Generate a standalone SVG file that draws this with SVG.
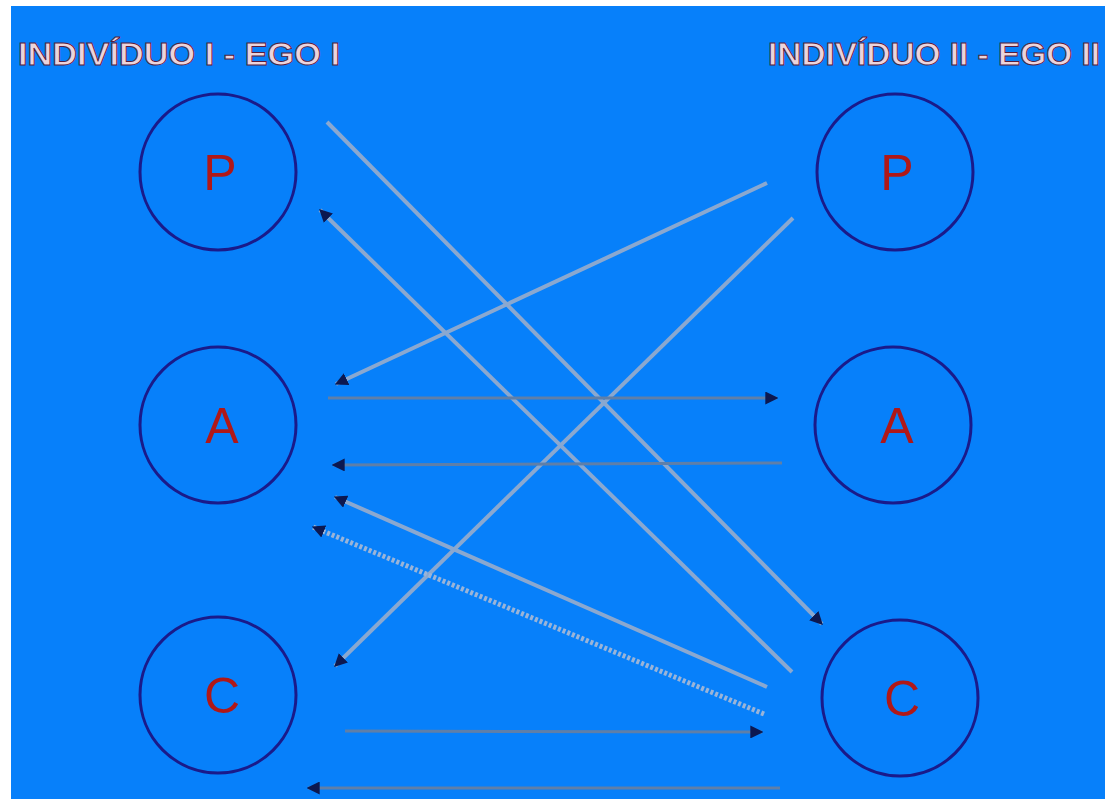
<svg xmlns="http://www.w3.org/2000/svg" width="1105" height="799" viewBox="0 0 1105 799">
<style>
.title{font-family:"Liberation Sans",Arial,sans-serif;font-weight:bold;font-size:31px;fill:#ecd4dc;stroke:#5a1c3c;stroke-width:0.9}
.ring{fill:none;stroke:#1a1a8a;stroke-width:3}
.lbl{font-family:"Liberation Sans",Arial,sans-serif;font-size:50px;fill:#b01818;text-anchor:middle}
.diag{stroke:#8aa8d0;stroke-width:4;fill:none}
.hor{stroke:#5f7fa8;stroke-width:3;fill:none}
.dot{stroke:#9ab4d8;stroke-width:5;fill:none;stroke-dasharray:3 2}
</style>
<defs>
<marker id="ah" viewBox="0 0 10 10" refX="9" refY="5" markerWidth="13" markerHeight="13" markerUnits="userSpaceOnUse" orient="auto">
<path d="M0,0 L10,5 L0,10 z" fill="#0c1850"/>
</marker>
</defs>
<rect x="11" y="6" width="1094" height="793" fill="#0780fa"/>
<text class="title" x="18" y="65" textLength="322" lengthAdjust="spacingAndGlyphs">INDIVÍDUO I - EGO I</text>
<text class="title" x="768" y="65" textLength="332" lengthAdjust="spacingAndGlyphs">INDIVÍDUO II - EGO II</text>
<g id="left-P"><circle class="ring" cx="218" cy="172" r="78"/><text class="lbl" x="220" y="190">P</text></g>
<g id="left-A"><circle class="ring" cx="218" cy="425" r="78"/><text class="lbl" x="222" y="443">A</text></g>
<g id="left-C"><circle class="ring" cx="218" cy="695" r="78"/><text class="lbl" x="222" y="713">C</text></g>
<g id="right-P"><circle class="ring" cx="895" cy="172" r="78"/><text class="lbl" x="897" y="190">P</text></g>
<g id="right-A"><circle class="ring" cx="893" cy="425" r="78"/><text class="lbl" x="897" y="443">A</text></g>
<g id="right-C"><circle class="ring" cx="900" cy="698" r="78"/><text class="lbl" x="902" y="716">C</text></g>
<g id="connectors">
<line class="diag" x1="327" y1="122" x2="822" y2="624" marker-end="url(#ah)"/>
<line class="diag" x1="792" y1="672" x2="320" y2="210" marker-end="url(#ah)"/>
<line class="diag" x1="767" y1="183" x2="336" y2="384" marker-end="url(#ah)"/>
<line class="diag" x1="793" y1="218" x2="335" y2="666" marker-end="url(#ah)"/>
<line class="hor" x1="328" y1="398" x2="777" y2="398" marker-end="url(#ah)"/>
<line class="hor" x1="782" y1="463" x2="333" y2="465" marker-end="url(#ah)"/>
<line class="diag" x1="767" y1="687" x2="335" y2="497" marker-end="url(#ah)"/>
<line class="dot" x1="764" y1="714" x2="313" y2="527" marker-end="url(#ah)"/>
<line class="hor" x1="345" y1="731" x2="762" y2="732" marker-end="url(#ah)"/>
<line class="hor" x1="780" y1="788" x2="308" y2="788" marker-end="url(#ah)"/>
</g>
</svg>
